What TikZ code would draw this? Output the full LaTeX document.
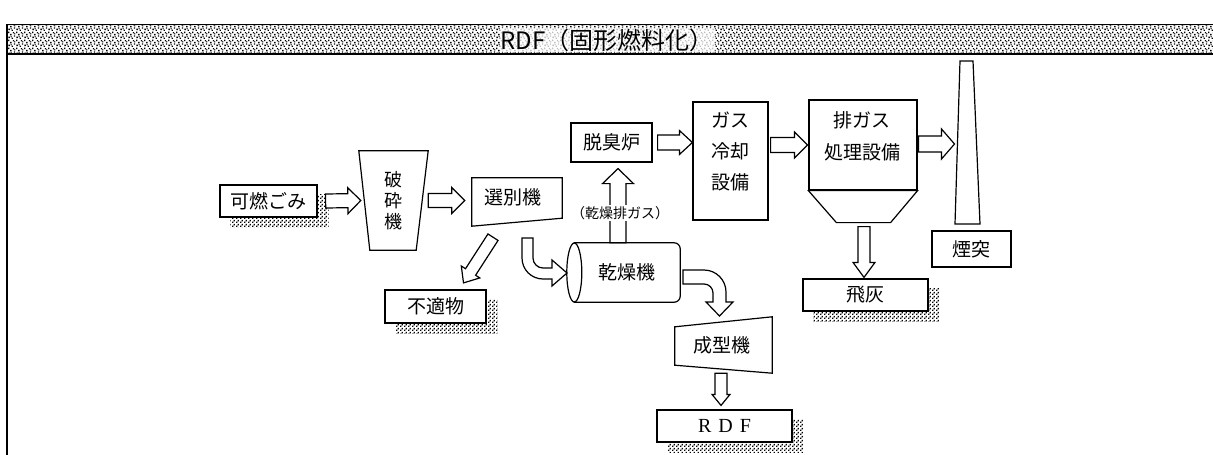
\documentclass[tikz,border=0pt]{standalone}
\usepackage{fontspec}
\newfontfamily\jp{Noto Sans CJK JP}
\newfontfamily\rdfserif{Liberation Serif}
\usetikzlibrary{calc,patterns,backgrounds}

\pgfdeclarepatternformonly{stipple}{\pgfpointorigin}{\pgfpoint{8pt}{8pt}}{\pgfpoint{8pt}{8pt}}{%
 \pgfpathrectangle{\pgfpoint{0.5pt}{1pt}}{\pgfpoint{1.5pt}{1.5pt}}%
 \pgfpathrectangle{\pgfpoint{4pt}{0pt}}{\pgfpoint{1.5pt}{1.5pt}}%
 \pgfpathrectangle{\pgfpoint{6.5pt}{2.5pt}}{\pgfpoint{1.5pt}{1.5pt}}%
 \pgfpathrectangle{\pgfpoint{2.5pt}{4pt}}{\pgfpoint{1.5pt}{1.5pt}}%
 \pgfpathrectangle{\pgfpoint{5.5pt}{6pt}}{\pgfpoint{1.5pt}{1.5pt}}%
 \pgfpathrectangle{\pgfpoint{0pt}{6.5pt}}{\pgfpoint{1.5pt}{1.5pt}}%
 \pgfpathrectangle{\pgfpoint{3pt}{2pt}}{\pgfpoint{1.2pt}{1.2pt}}%
 \pgfpathrectangle{\pgfpoint{7pt}{5pt}}{\pgfpoint{1.2pt}{1.2pt}}%
 \pgfusepath{fill}}

\pgfdeclarepatternformonly{shadowdots}{\pgfpointorigin}{\pgfpoint{4pt}{4pt}}{\pgfpoint{4pt}{4pt}}{%
 \pgfpathrectangle{\pgfpoint{0pt}{0pt}}{\pgfpoint{1.7pt}{1.7pt}}%
 \pgfpathrectangle{\pgfpoint{2pt}{2pt}}{\pgfpoint{1.7pt}{1.7pt}}%
 \pgfusepath{fill}}

\tikzset{
  jfont/.style={font=\jp\fontsize{19}{22}\selectfont},
  box/.style={draw, line width=1.2pt, fill=white, jfont, inner sep=0pt},
  area/.style={jfont, inner sep=0pt},
  shp/.style={draw, line width=1.2pt, fill=white, line join=miter},
  blk/.style={draw, line width=1.2pt, fill=white, line join=miter},
  shadowfill/.style={pattern=shadowdots},
}

\newcommand\fatarrow[5]{%
  \draw[blk] let \p1=(#1), \p2=(#2), \n1={atan2(\y2-\y1,\x2-\x1)} in
    ($(\p1)+(\n1+90:#3pt)$) --
    ($(\p2)+(\n1+180:#5pt)+(\n1+90:#3pt)$) --
    ($(\p2)+(\n1+180:#5pt)+(\n1+90:#4pt)$) --
    (\p2) --
    ($(\p2)+(\n1+180:#5pt)+(\n1-90:#4pt)$) --
    ($(\p2)+(\n1+180:#5pt)+(\n1-90:#3pt)$) --
    ($(\p1)+(\n1-90:#3pt)$) -- cycle;}

\begin{document}
\begin{tikzpicture}[x=1pt,y=-1pt]
\useasboundingbox (0,0) rectangle (1213,455);

% frame and title band
\fill[pattern=stipple] (7,24) rectangle (1213,54);
\draw[line width=1pt] (7,24) -- (1213,24);
\draw[line width=1.6pt] (7,54) -- (1213,54);
\draw[line width=1.6pt] (7,24) -- (7,455);
\node[font=\jp\fontsize{24}{26}\selectfont, inner sep=1pt, fill=white, fill opacity=0.75, text opacity=1] (title) at (607,40) {RDF（固形燃料化）};

% nodes
\node[box, minimum width=97pt, minimum height=32pt] (kanen) at (268.5,201) {可燃ごみ};
\node[area, minimum width=69pt, minimum height=99pt] (crush) at (393.5,200.5) {};
\node[area, minimum width=90pt, minimum height=48pt] (sep) at (517,202) {};
\node[box, minimum width=101pt, minimum height=33pt] (futeki) at (435.5,306.5) {不適物};
\node[area, minimum width=113pt, minimum height=59pt] (dry) at (623.5,272.5) {};
\node[area, minimum width=97pt, minimum height=56pt] (mold) at (723.5,345) {};
\node[box, minimum width=135pt, minimum height=32pt] (rdf) at (724.5,426) {\rdfserif\fontsize{20}{22}\selectfont R\hspace{7pt}D\hspace{7pt}F};
\node[box, minimum width=81pt, minimum height=39pt] (deo) at (611.5,142.5) {脱臭炉};
\node[box, minimum width=75pt, minimum height=118pt] (cool) at (730.5,161) {};
\node[area, align=center, font=\jp\fontsize{19}{31}\selectfont] (cooltxt) at (730.5,151) {ガス\\冷却\\設備};
\node[box, minimum width=108pt, minimum height=90pt] (exh) at (863,145) {};
\node[area, align=center, font=\jp\fontsize{19}{32}\selectfont] (exhtxt) at (862,136) {排ガス\\処理設備};
\node[box, minimum width=125pt, minimum height=32pt] (ash) at (865.5,295) {飛灰};
\node[box, minimum width=79pt, minimum height=36pt] (entotsu) at (971.5,249) {煙突};
\coordinate (chim) at (967.5,144);
\coordinate (hop) at ($(exh.south)+(0,32)$);

% shadows
\begin{scope}[on background layer]
  \foreach \n in {kanen,futeki,ash,rdf}{
    \fill[shadowfill] ($(\n.north west)+(11,10)$) rectangle ($(\n.south east)+(11,10)$);
  }
\end{scope}

% shapes
\draw[shp] (crush.north west) -- (crush.north east) -- ($(crush.south east)+(-12,0)$) -- ($(crush.south west)+(11,0)$) -- cycle;
\node[area, align=center, font=\jp\fontsize{18}{21}\selectfont] (crushtxt) at (crush) {破\\砕\\機};
\draw[shp] (sep.north west) -- (sep.north east) -- ($(sep.south east)+(0,-8)$) -- (sep.south west) -- cycle;
\node[area] (septxt) at (513,197) {選別機};
\draw[shp] ($(mold.north west)+(0,10)$) -- (mold.north east) -- (mold.south east) -- ($(mold.south west)+(0,-8)$) -- cycle;
\node[area] (moldtxt) at (722,345) {成型機};
% dryer cylinder
\draw[shp] ($(dry.north west)+(7.5,0)$) [rounded corners=6pt] -- (dry.north east) -- (dry.south east) [sharp corners] -- ($(dry.south west)+(7.5,0)$) -- cycle;
\draw[shp] ($(dry.west)+(7.5,0)$) ellipse [x radius=7.5pt, y radius=29.5pt];
\node[area] (drytxt) at (627,272) {乾燥機};
% hopper of exhaust treatment
\draw[shp] (exh.south west) -- ($(exh.south west)+(28,32)$) -- ($(exh.south east)+(-27,32)$) -- (exh.south east) -- cycle;
% chimney
\draw[shp] (960,61) -- (973,61) -- (980,224) -- (955,224) -- cycle;

% block arrows
\fatarrow{$(kanen.east)+(8,0)$}{$(crush.west)+(2,0)$}{7}{13}{13}
\fatarrow{crush.east}{$(sep.west)+(-7,-1.5)$}{7}{13}{13}
\fatarrow{$(deo.east)+(5,0)$}{cool.west |- deo.east}{7.5}{12}{13}
\fatarrow{$(cool.east |- exh.west)+(2,0)$}{$(exh.west)+(-1,0)$}{7.5}{13}{13}
\fatarrow{$(exh.east)+(1,-1)$}{$(chim)+(-13,0)$}{8}{15}{13}
\fatarrow{$(sep.south)+(-24,11)$}{$(futeki.north)+(28,-6.5)$}{6}{11}{13}
\fatarrow{$(hop)+(1,4)$}{$(ash.north)+(-1.5,-1)$}{6}{11}{15}
\fatarrow{$(mold.south)+(-2.5,0)$}{$(rdf.north)+(-3.5,-4)$}{6}{9}{11}
\fatarrow{$(dry.north)+(-5.5,0)$}{$(deo.south)+(6.5,6)$}{8}{15.5}{15}
\node[font=\jp\fontsize{14}{16}\selectfont, fill=white, inner sep=1pt] (dgas) at (620,213) {（乾燥排ガス）};

% curved arrows
\draw[blk] (522,238) -- (522,258) .. controls (522,269.6) and (531.4,279) .. (543,279) -- (552,279) -- (552,286) -- (567,273) -- (552,260) -- (552,268) -- (543,268) .. controls (537.5,268) and (533,263.5) .. (533,258) -- (533,238) -- cycle;
\draw[blk] (683,270) -- (704,270) .. controls (716.1,270) and (726,279.9) .. (726,292) -- (726,302) -- (733,302) -- (719.5,316) -- (706,302) -- (713,302) -- (713,293) .. controls (713,288) and (709,284) .. (704,284) -- (683,284) -- cycle;
\end{tikzpicture}
\end{document}
